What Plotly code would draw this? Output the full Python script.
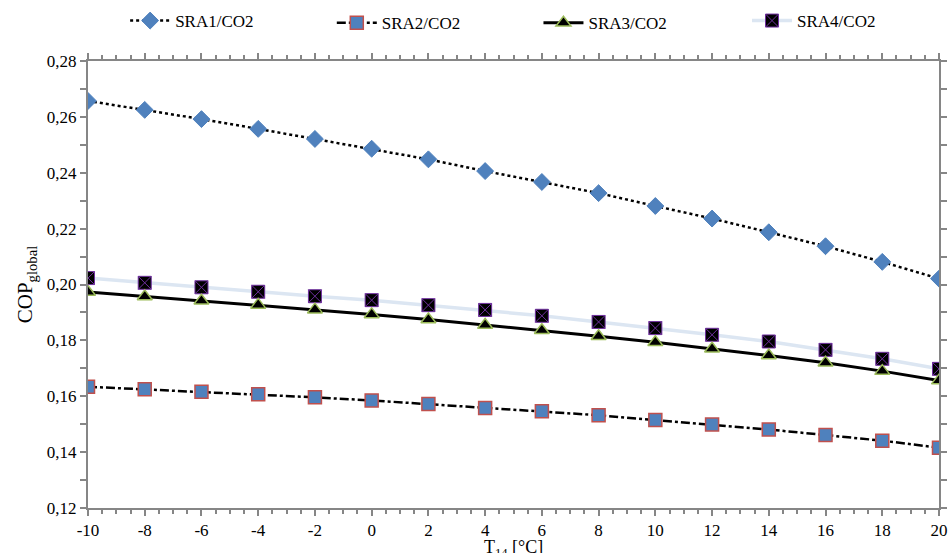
import plotly.graph_objects as go

t14 = [-10, -8, -6, -4, -2, 0, 2, 4, 6, 8, 10, 12, 14, 16, 18, 20]
t14_labels = ["-10", "-8", "-6", "-4", "-2", "0", "2", "4", "6", "8", "10", "12", "14", "16", "18", "20"]
sra1 = [0.2657, 0.2625, 0.2592, 0.2557, 0.2521, 0.2486, 0.2448, 0.2406, 0.2367, 0.2327, 0.2281, 0.2236, 0.2187, 0.2137, 0.2081, 0.2021]
sra2 = [0.1634, 0.1625, 0.1616, 0.1607, 0.1596, 0.1585, 0.1572, 0.1558, 0.1546, 0.1532, 0.1515, 0.1499, 0.1481, 0.1461, 0.1441, 0.1416]
sra3 = [0.1973, 0.1957, 0.1942, 0.1927, 0.1910, 0.1893, 0.1875, 0.1855, 0.1836, 0.1815, 0.1793, 0.1770, 0.1746, 0.1720, 0.1690, 0.1656]
sra4 = [0.2023, 0.2006, 0.1990, 0.1974, 0.1958, 0.1944, 0.1926, 0.1909, 0.1888, 0.1866, 0.1844, 0.1820, 0.1796, 0.1766, 0.1734, 0.1698]
names = ["SRA1/CO2", "SRA2/CO2", "SRA3/CO2", "SRA4/CO2"]
x_title = "T<sub>14</sub> [°C]"
y_title = "COP<sub>global</sub>"

font = "Liberation Serif"
fig = go.Figure()
fig.add_trace(go.Scatter(x=t14, y=sra1, name=names[0], mode="lines+markers", legend="legend", showlegend=True,
                         line=dict(color="black", width=2.5, dash="dot"),
                         marker=dict(symbol="diamond", size=13, color="#4f81bd", line=dict(color="#4f81bd", width=1))))
fig.add_trace(go.Scatter(x=t14, y=sra2, name=names[1], mode="lines+markers", legend="legend2", showlegend=True,
                         line=dict(color="black", width=2.5, dash="dashdot"),
                         marker=dict(symbol="square", size=13, color="#4f81bd", line=dict(color="#c0504d", width=1.5))))
fig.add_trace(go.Scatter(x=t14, y=sra4, name=names[3], mode="lines+markers", legend="legend4", showlegend=True,
                         line=dict(color="#dce6f2", width=3.5),
                         marker=dict(symbol="square-x", size=13, color="black", line=dict(color="#7030a0", width=1))))
fig.add_trace(go.Scatter(x=t14, y=sra3, name=names[2], mode="lines+markers", legend="legend3", showlegend=True,
                         line=dict(color="black", width=3),
                         marker=dict(symbol="triangle-up", size=13, color="black", line=dict(color="#9bbb59", width=1.5))))

axis_common = dict(showgrid=False, zeroline=False, showline=True, linecolor="#868686", linewidth=2,
                   ticks="outside", tickcolor="#868686", tickwidth=1.5, ticklen=6, mirror="ticks",
                   automargin=False,
                   tickfont=dict(family=font, size=17, color="black"))


def leg(x, y=0.962):
    return dict(orientation="h", xref="container", yref="container", x=x, y=y,
                xanchor="left", yanchor="middle", bgcolor="rgba(0,0,0,0)",
                font=dict(family=font, size=17), itemwidth=40, visible=True)


fig.update_layout(
    width=948, height=553,
    margin=dict(l=88, r=9, t=61, b=45),
    plot_bgcolor="white", paper_bgcolor="white",
    showlegend=True,
    separators=", ",
    font=dict(family=font, color="black"),
    xaxis=dict(range=[-10, 20], tickmode="array", tickvals=t14, ticktext=t14_labels,
               minor=dict(dtick=0.5, tick0=-10, ticks="outside", ticklen=4, tickcolor="#868686"),
               **axis_common),
    yaxis=dict(range=[0.12, 0.28], tickmode="linear", tick0=0.12, dtick=0.02, tickformat=".2f",
               minor=dict(dtick=0.01, ticks="outside", ticklen=6, tickcolor="#868686"),
               title=dict(text=y_title, font=dict(family=font, size=21), standoff=8),
               **axis_common),
    legend=leg(0.132),
    legend2=leg(0.350, 0.958),
    legend3=leg(0.568, 0.958),
    legend4=leg(0.788),
    annotations=[dict(text=x_title, xref="paper", yref="paper", x=0.5, y=-0.09,
                      xanchor="center", yanchor="middle", showarrow=False,
                      font=dict(family=font, size=18, color="black"))],
)
fig.write_html("out.html")
